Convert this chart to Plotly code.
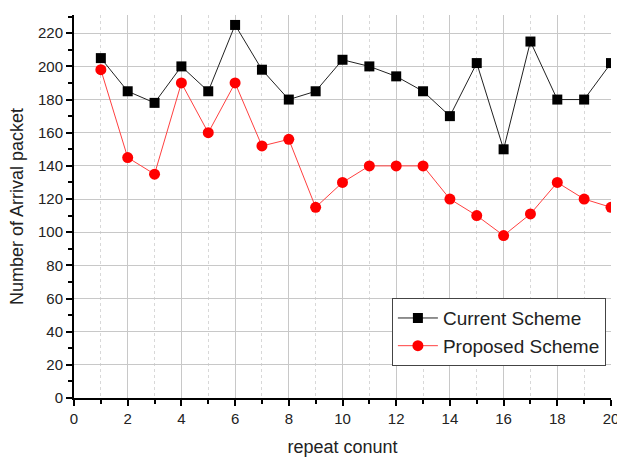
import plotly.graph_objects as go

repeat = list(range(1, 21))
current_scheme = [205, 185, 178, 200, 185, 225, 198, 180, 185, 204,
                  200, 194, 185, 170, 202, 150, 215, 180, 180, 202]
proposed_scheme = [198, 145, 135, 190, 160, 190, 152, 156, 115, 130,
                   140, 140, 140, 120, 110, 98, 111, 130, 120, 115]

fig = go.Figure()
fig.add_trace(go.Scatter(
    x=repeat, y=current_scheme, name="Current Scheme", mode="lines+markers",
    line=dict(color="#222222", width=1),
    marker=dict(symbol="square", size=10, color="black"),
))
fig.add_trace(go.Scatter(
    x=repeat, y=proposed_scheme, name="Proposed Scheme", mode="lines+markers",
    line=dict(color="#ff4040", width=1),
    marker=dict(symbol="circle", size=11, color="#ff0000"),
))

font = "Liberation Sans, Arial, sans-serif"
fig.update_layout(
    width=617, height=460,
    margin=dict(l=74, r=6, t=15, b=62),
    paper_bgcolor="white", plot_bgcolor="white",
    font=dict(family=font, color="#222222", size=15),
    showlegend=True,
    legend=dict(
        x=0.592, y=0.172, xanchor="left", yanchor="middle",
        bgcolor="white", bordercolor="#444444", borderwidth=1,
        font=dict(size=19, family=font, color="#222222"),
        tracegroupgap=0, itemwidth=40,
    ),
    xaxis=dict(
        range=[0, 20], dtick=2, tick0=0, automargin=False,
        ticklabeloverflow="allow",
        showline=True, linecolor="black", linewidth=2,
        ticks="outside", ticklen=6, tickwidth=2, tickcolor="black",
        showgrid=True, gridcolor="#c8c8c8", gridwidth=1,
        zeroline=False,
        minor=dict(dtick=1, tick0=0, ticks="outside", ticklen=4, tickcolor="black",
                   tickwidth=1.5, showgrid=True, gridcolor="#d8d8d8", griddash="dot"),
        title=dict(text="repeat conunt", font=dict(size=18), standoff=14),
        tickfont=dict(size=15),
    ),
    yaxis=dict(
        range=[0, 231], dtick=20, tick0=0, automargin=False,
        showline=True, linecolor="black", linewidth=2,
        ticks="outside", ticklen=6, tickwidth=2, tickcolor="black",
        showgrid=True, gridcolor="#c8c8c8", gridwidth=1,
        zeroline=False,
        minor=dict(dtick=10, tick0=0, ticks="outside", ticklen=4, tickcolor="black",
                   tickwidth=1.5, showgrid=False),
        title=dict(text="Number of Arrival packet", font=dict(size=18), standoff=10),
        tickfont=dict(size=15),
    ),
)

fig.write_html(
    "out.html",
    config={"displayModeBar": False},
    post_script="document.body.style.margin='0';document.body.style.overflow='hidden';",
)
